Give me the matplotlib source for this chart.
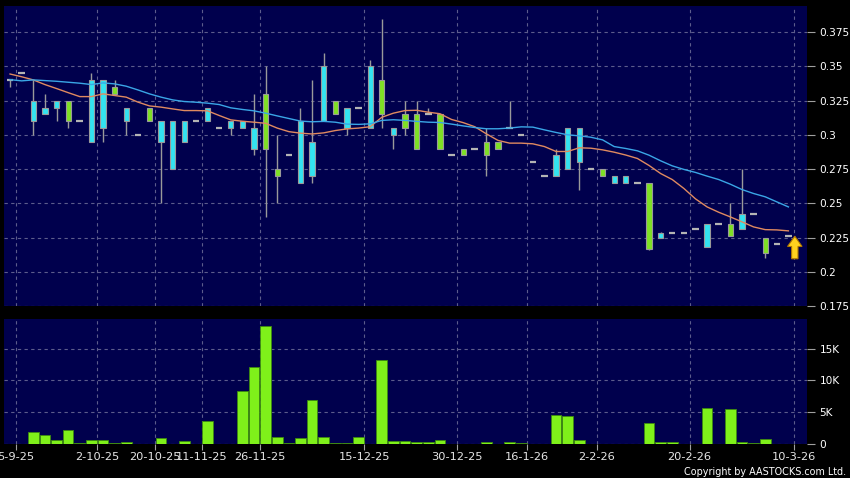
import matplotlib
matplotlib.use("Agg")
import matplotlib.pyplot as plt
import numpy as np
from matplotlib.patches import FancyArrow

# daily OHLC (dash = no real body, open == close)
opens = [0.34, 0.345, 0.31, 0.315, 0.32, 0.325, 0.31, 0.295, 0.305, 0.335,
         0.31, 0.30, 0.32, 0.295, 0.275, 0.295, 0.31, 0.31, 0.305, 0.305,
         0.305, 0.29, 0.33, 0.275, 0.285, 0.265, 0.27, 0.31, 0.325, 0.305,
         0.32, 0.305, 0.34, 0.30, 0.315, 0.315, 0.315, 0.315, 0.285, 0.29,
         0.29, 0.295, 0.295, 0.305, 0.30, 0.28, 0.27, 0.27, 0.275, 0.28,
         0.275, 0.275, 0.265, 0.265, 0.265, 0.265, 0.225, 0.228, 0.228, 0.231,
         0.218, 0.235, 0.235, 0.231, 0.242, 0.225, 0.22, 0.226]
highs = [0.34, 0.345, 0.34, 0.33, 0.325, 0.325, 0.31, 0.345, 0.34, 0.34,
         0.32, 0.30, 0.32, 0.31, 0.31, 0.31, 0.31, 0.32, 0.305, 0.31,
         0.31, 0.33, 0.35, 0.30, 0.285, 0.32, 0.34, 0.36, 0.325, 0.32,
         0.32, 0.355, 0.385, 0.305, 0.325, 0.325, 0.32, 0.315, 0.285, 0.29,
         0.29, 0.305, 0.295, 0.325, 0.30, 0.28, 0.27, 0.29, 0.305, 0.305,
         0.275, 0.275, 0.27, 0.27, 0.265, 0.265, 0.229, 0.228, 0.228, 0.231,
         0.235, 0.235, 0.25, 0.275, 0.242, 0.225, 0.22, 0.226]
lows = [0.335, 0.345, 0.30, 0.315, 0.31, 0.305, 0.31, 0.295, 0.295, 0.33,
        0.30, 0.30, 0.31, 0.25, 0.275, 0.295, 0.31, 0.31, 0.305, 0.30,
        0.305, 0.285, 0.24, 0.25, 0.285, 0.265, 0.265, 0.31, 0.315, 0.30,
        0.32, 0.305, 0.305, 0.29, 0.30, 0.29, 0.315, 0.29, 0.285, 0.285,
        0.29, 0.27, 0.29, 0.305, 0.30, 0.28, 0.27, 0.27, 0.275, 0.26,
        0.275, 0.27, 0.265, 0.265, 0.265, 0.216, 0.225, 0.228, 0.228, 0.231,
        0.218, 0.235, 0.226, 0.231, 0.242, 0.21, 0.22, 0.226]
closes = [0.34, 0.345, 0.325, 0.32, 0.325, 0.31, 0.31, 0.34, 0.34, 0.33,
          0.32, 0.30, 0.31, 0.31, 0.31, 0.31, 0.31, 0.32, 0.305, 0.31,
          0.31, 0.305, 0.29, 0.27, 0.285, 0.31, 0.295, 0.35, 0.315, 0.32,
          0.32, 0.35, 0.315, 0.305, 0.305, 0.29, 0.315, 0.29, 0.285, 0.285,
          0.29, 0.285, 0.29, 0.305, 0.30, 0.28, 0.27, 0.285, 0.305, 0.305,
          0.275, 0.27, 0.27, 0.27, 0.265, 0.217, 0.228, 0.228, 0.228, 0.231,
          0.235, 0.235, 0.226, 0.242, 0.242, 0.214, 0.22, 0.226]
volumes = [0, 0, 1790, 1315, 580, 2100, 150, 630, 525, 30,
           260, 0, 0, 840, 0, 370, 0, 3580, 0, 0,
           8360, 12200, 18620, 1000, 100, 840, 6940, 1100, 150, 150,
           1100, 0, 13200, 470, 370, 210, 250, 550, 0, 0,
           0, 250, 0, 250, 50, 0, 0, 4500, 4400, 550,
           0, 0, 0, 0, 0, 3200, 180, 230, 0, 0,
           5700, 0, 5500, 160, 120, 700, 0, 0]
ma_short = [0.3445, 0.3425, 0.3402, 0.3368, 0.3339, 0.3309, 0.328, 0.328, 0.330, 0.3288,
            0.3276, 0.324, 0.3212, 0.3203, 0.319, 0.3178, 0.3178, 0.3176, 0.3142, 0.311,
            0.310, 0.3093, 0.3085, 0.305, 0.3024, 0.3013, 0.3007, 0.3015, 0.3032, 0.3044,
            0.305, 0.306, 0.3129, 0.3159, 0.3178, 0.318, 0.3166, 0.3155, 0.3113, 0.309,
            0.306, 0.3008, 0.296, 0.294, 0.294, 0.2935, 0.2915, 0.2879, 0.2879, 0.2906,
            0.2903, 0.2891, 0.2874, 0.2853, 0.2828, 0.2777, 0.2718, 0.2674, 0.2609, 0.2533,
            0.2474, 0.2435, 0.2401, 0.2365, 0.2328, 0.2308, 0.2306, 0.2299]
ma_long = [0.3404, 0.3395, 0.3402, 0.3397, 0.3392, 0.3385, 0.3378, 0.3368, 0.338, 0.3373,
           0.3356, 0.3329, 0.330, 0.3276, 0.3256, 0.3244, 0.3239, 0.3232, 0.3222, 0.3198,
           0.3186, 0.3176, 0.3159, 0.3139, 0.312, 0.3101, 0.3096, 0.3099, 0.3093, 0.3079,
           0.3077, 0.3081, 0.3106, 0.3111, 0.3106, 0.3099, 0.3093, 0.3091, 0.3079, 0.3066,
           0.3054, 0.3045, 0.3045, 0.305, 0.3059, 0.3057, 0.3037, 0.3018, 0.3001, 0.2993,
           0.2983, 0.2964, 0.2915, 0.2901, 0.2884, 0.2852, 0.2811, 0.2774, 0.2748, 0.2726,
           0.2699, 0.2674, 0.264, 0.2601, 0.2572, 0.2548, 0.2511, 0.2474]
date_labels = ["5-9-25", "2-10-25", "20-10-25", "11-11-25", "26-11-25", "15-12-25",
               "30-12-25", "16-1-26", "2-2-26", "20-2-26", "10-3-26"]
date_label_idx = [0, 7, 12, 16, 21, 30, 38, 44, 50, 58, 67]
price_ticks = [0.175, 0.2, 0.225, 0.25, 0.275, 0.3, 0.325, 0.35, 0.375]
price_tick_labels = ["0.175", "0.2", "0.225", "0.25", "0.275", "0.3", "0.325", "0.35", "0.375"]
vol_ticks = [0, 5000, 10000, 15000]
vol_tick_labels = ["0", "5K", "10K", "15K"]

BG = "#00004d"
GRID = "#5c5c8c"
UP = "#33e3f0"
DOWN = "#7fe024"
EDGE = "#9a9a9a"

o = np.array(opens); h = np.array(highs); l = np.array(lows); c = np.array(closes)
x = np.arange(len(o))

fig = plt.figure(figsize=(8.5, 4.78), dpi=100, facecolor="black")
ax = fig.add_axes([4 / 850, 1 - 306 / 478, 803 / 850, 300 / 478], facecolor=BG)
axv = fig.add_axes([4 / 850, 1 - 443.5 / 478, 803 / 850, 124.2 / 478], facecolor=BG, sharex=ax)

grid_x = np.array(date_label_idx) + 0.5
for a in (ax, axv):
    for s in a.spines.values():
        s.set_visible(False)
    a.set_xticks(grid_x)
    a.grid(True, color=GRID, ls=(0, (3, 3)), lw=0.8)
    a.set_axisbelow(True)
    a.yaxis.tick_right()
    a.tick_params(axis="y", colors="#a0a0a0", labelcolor="white", length=6, width=0.8,
                  labelsize=7.6, pad=3)

# candles
ax.vlines(x, l, h, color=EDGE, lw=1, zorder=2)
flat = o == c
up = (c > o)
body_lo = np.minimum(o, c)
body_h = np.abs(c - o)
ax.bar(x[~flat], body_h[~flat], bottom=body_lo[~flat], width=0.45,
       color=np.where(up[~flat], UP, DOWN), edgecolor=EDGE, lw=0.8, zorder=3)
ax.hlines(c[flat], x[flat] - 0.28, x[flat] + 0.28, color="#b4b4b4", lw=1.6, zorder=3)

ax.plot(x, ma_short, color="#e08a60", lw=1.0, zorder=4)
ax.plot(x, ma_long, color="#3aa6e6", lw=1.0, zorder=4)

# marker on the latest bar
ax.add_patch(FancyArrow(x[-1] + 0.55, c[-1] - 0.0165, 0, 0.0165, width=0.55,
                        head_width=1.25, head_length=0.0075, length_includes_head=True,
                        facecolor="#ffd21f", edgecolor="#b07800", lw=0.8, zorder=5))

ax.set_xlim(-0.52, 68.6)
ax.set_ylim(0.175, 0.3942)
ax.set_yticks(price_ticks)
ax.set_yticklabels(price_tick_labels)
ax.tick_params(axis="x", length=0, labelbottom=False)

axv.bar(x, volumes, width=0.92, color="#7ff01a", edgecolor="#3d8a10", lw=0.6, zorder=3)
axv.set_ylim(0, 19700)
axv.set_yticks(vol_ticks)
axv.set_yticklabels(vol_tick_labels)
axv.set_xticklabels(date_labels)
axv.tick_params(axis="x", colors="#a0a0a0", labelcolor="#e6e6e6", length=4, width=0.8,
                labelsize=8.2, pad=2)

fig.text(846 / 850, 1 - 472 / 478, "Copyright by AASTOCKS.com Ltd.", color="white",
         fontsize=6.9, ha="right", va="center")

fig.savefig("out.png", dpi=100, facecolor="black")
